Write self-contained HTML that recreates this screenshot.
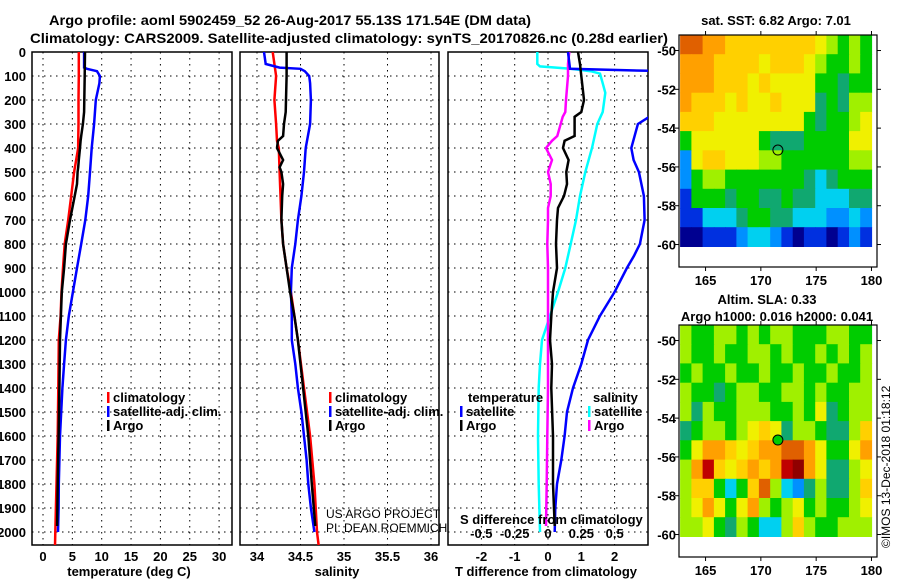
<!DOCTYPE html>
<html><head><meta charset="utf-8"><style>
html,body{margin:0;padding:0;background:#fff}
svg{display:block;font-family:"Liberation Sans",sans-serif}
text{font-weight:bold;font-size:13px;fill:#000}
</style></head><body>
<svg id="s" width="900" height="580" viewBox="0 0 900 580" xmlns="http://www.w3.org/2000/svg">
<defs>
<clipPath id="c1"><rect x="32" y="52" width="200" height="493"/></clipPath>
<clipPath id="c2"><rect x="240" y="52" width="199" height="493"/></clipPath>
<clipPath id="c3"><rect x="448" y="52" width="200" height="493"/></clipPath>
</defs>
<text x="49" y="25" style="font-size:14px" textLength="482" lengthAdjust="spacingAndGlyphs">Argo profile: aoml 5902459_52 26-Aug-2017 55.13S 171.54E (DM data)</text>
<text x="30" y="43" style="font-size:14px" textLength="638" lengthAdjust="spacingAndGlyphs">Climatology: CARS2009. Satellite-adjusted climatology: synTS_20170826.nc (0.28d earlier)</text>
<g id="g"></g>
</svg>
<script>
// ---- depth data ----
const depthClim=[0,100,200,300,370,400,500,600,700,800,900,1000,1100,1200,1400,1600,1800,2000,2060];
const tempClim=[6.1,6.1,6.05,6.05,6.0,6.0,5.3,4.8,4.3,3.7,3.4,3.15,3.0,2.7,2.6,2.5,2.3,2.1,2.05];
const salClim=[34.18,34.22,34.2,34.22,34.23,34.25,34.26,34.27,34.28,34.3,34.34,34.39,34.43,34.47,34.54,34.61,34.66,34.69,34.71];
const depthArgo=[0,100,250,300,350,370,400,450,480,500,550,600,700,800,900,1000,1100,1200,1400,1600,1800,1975];
const tempArgo=[7.15,7.1,7.0,6.8,6.5,6.4,6.3,6.1,6.0,5.9,5.8,5.4,4.6,3.9,3.6,3.2,3.05,2.9,2.8,2.65,2.5,2.4];
const salArgo=[34.34,34.34,34.33,34.31,34.3,34.24,34.23,34.3,34.26,34.28,34.3,34.29,34.28,34.3,34.34,34.38,34.43,34.47,34.53,34.59,34.63,34.67];
const depthSat=[0,50,65,70,80,100,130,200,300,400,500,600,700,800,900,1000,1100,1200,1300,1400,1500,1600,1700,1800,1900,2000];
const tempSat=[7.0,7.0,7.0,7.5,9.2,9.7,9.6,9.0,8.7,8.3,8.0,7.7,7.2,6.5,5.8,5.1,4.4,3.9,3.6,3.3,3.1,2.9,2.8,2.7,2.65,2.55];
const salSat=[34.08,34.1,34.26,34.5,34.55,34.6,34.61,34.62,34.61,34.56,34.54,34.51,34.47,34.44,34.4,34.39,34.4,34.4,34.44,34.47,34.51,34.54,34.57,34.59,34.62,34.66];
// differences
const depthTdA=[0,50,100,200,250,270,350,370,400,450,500,550,600,650,700,800,900,1000,1100,1200,1300,1400,1600,1800,1975];
const tdArgo=[0.9,0.96,1.0,1.08,1.0,0.8,0.8,0.5,0.45,0.62,0.55,0.57,0.48,0.3,0.27,0.24,0.27,0.15,0.1,0.06,0.12,0.1,0.15,0.15,0.2];
const sdArgo=[0.16,0.15,0.15,0.135,0.13,0.11,0.07,0.03,-0.015,0.03,0.0,0.02,0.02,0.0,0.0,-0.005,0.0,0.0,0.0,0.0,0.0,0.0,-0.005,-0.01,-0.015];
const depthTdS=[0,70,80,230,300,400,450,500,600,700,800,850,900,1000,1100,1200,1300,1400,1500,1600,1700,1800,1900,2000];
const tdSat=[0.6,0.66,3.5,3.5,2.7,2.5,2.57,2.73,2.88,2.9,2.76,2.58,2.37,2.0,1.56,1.2,1.0,0.75,0.57,0.5,0.4,0.27,0.22,0.2];
const depthSdS=[0,50,60,70,80,90,130,170,250,300,400,500,600,700,800,900,1000,1100,1200,1300,1400,1600,1800,2000];
const sdSat=[-0.08,-0.08,-0.06,0.17,0.32,0.39,0.41,0.43,0.41,0.37,0.33,0.28,0.24,0.21,0.17,0.13,0.075,0.015,-0.045,-0.06,-0.07,-0.075,-0.07,-0.06];
const depthTicks=[0,100,200,300,400,500,600,700,800,900,1000,1100,1200,1300,1400,1500,1600,1700,1800,1900,2000];
const tempTicks=[0,5,10,15,20,25,30];
const salTicks=[34,34.5,35,35.5,36];
const tdTicks=[-2,-1,0,1,2];
const sdTicks=["-0.5","-0.25","0","0.25","0.5"];
// ---- map data (colour level indices), rows lat -49.2..-60.1, cols lon 162.7..180 ----
const sstGrid=[
[10,10,9,9,8,8,8,8,8,8,8,8,7,6,5,6,5],
[9,9,9,8,8,8,8,7,8,8,8,7,6,5,5,6,5],
[9,9,9,8,8,8,7,8,7,7,7,7,5,5,4,5,5],
[9,8,8,8,7,8,7,7,8,7,7,7,4,5,4,6,6],
[8,8,8,7,7,7,7,7,7,7,7,5,4,5,5,6,7],
[5,7,7,7,7,7,7,5,4,4,4,5,5,5,5,7,7],
[2,7,8,8,7,7,7,6,6,5,5,5,5,5,5,6,6],
[2,5,6,6,5,5,5,5,5,5,5,4,3,4,5,5,5],
[1,5,5,5,4,5,5,4,4,5,4,4,3,3,3,4,4],
[1,1,3,3,3,4,5,5,4,4,3,3,3,2,2,3,2],
[0,0,1,1,1,2,3,3,2,1,0,1,1,0,1,2,1]];
const slaGrid=[
[6,5,5,6,6,5,6,5,6,6,5,5,5,6,6,5,5],
[6,5,5,6,5,5,6,6,5,6,5,5,6,5,6,5,6],
[5,6,5,5,6,5,5,6,5,5,6,5,5,6,5,5,6],
[6,5,5,4,5,6,6,5,5,6,6,5,6,5,5,6,6],
[6,4,6,5,5,6,6,6,5,5,6,5,7,4,5,6,6],
[4,5,6,6,5,6,7,8,7,4,6,6,5,4,4,6,8],
[5,7,9,9,8,7,8,9,9,10,10,9,7,5,5,7,9],
[6,9,11,8,7,8,9,8,9,11,12,9,7,4,4,6,7],
[6,8,8,5,3,5,8,10,6,3,2,4,6,4,4,6,8],
[6,7,9,7,5,7,9,6,5,6,7,5,6,5,5,6,7],
[6,6,7,5,4,6,5,3,3,6,8,6,5,5,6,6,6]];
const latTicks=[-50,-52,-54,-56,-58,-60];
const lonTicks=[165,170,175,180];
const floatLon=171.54, floatLat=-55.13;

const NS='http://www.w3.org/2000/svg';
const G=document.getElementById('g');
function el(tag,attrs,parent){const e=document.createElementNS(NS,tag);for(const k in attrs)e.setAttribute(k,attrs[k]);(parent||G).appendChild(e);return e;}
function txt(x,y,s,anchor,size,weight,parent){const t=el('text',{x:x,y:y,'text-anchor':anchor||'start'},parent);if(size)t.style.fontSize=size+'px';if(weight)t.style.fontWeight=weight;t.textContent=s;return t;}
const yD=d=>52+d*0.24;
const xT=v=>43+5.87*v;
const xS=v=>257+87*(v-34);
const xTd=v=>548+33.3*v;
const xSd=v=>548+133.3*v;
const PT=52,PB=545;

function panel(x0,w,name){
  const r=el('rect',{x:x0,y:PT,width:w,height:PB-PT,fill:'none',stroke:'#000','stroke-width':1.5});
  
  
  depthTicks.forEach(d=>{el('line',{x1:x0,x2:x0+w,y1:yD(d),y2:yD(d),stroke:'#000','stroke-width':1,'stroke-dasharray':'1.5,4.5'});});
}
function vgrid(xs){xs.forEach(x=>el('line',{x1:x,x2:x,y1:PT,y2:PB,stroke:'#000','stroke-width':1,'stroke-dasharray':'1.5,4.5'}));}
function line(ds,vs,fx,color,clip,name){
  let d='';ds.forEach((dd,i)=>{const X=fx(vs[i]),Y=yD(dd);d+=(i?'L':'M')+X.toFixed(1)+' '+Y.toFixed(1)+' ';});
  const p=el('path',{d:d,fill:'none',stroke:color,'stroke-width':2.5,'clip-path':'url(#'+clip+')'});
  
  
}
// panel 1
panel(32,200,'temperature-panel');vgrid(tempTicks.map(xT));
depthTicks.forEach(d=>{const t=txt(26,yD(d)+5,String(d),'end');});
line(depthClim,tempClim,xT,'#ff0000','c1','temp-climatology-line');
line(depthSat,tempSat,xT,'#0000ff','c1','temp-satellite-line');
line(depthArgo,tempArgo,xT,'#000','c1','temp-argo-line');
tempTicks.forEach(v=>{const t=txt(xT(v),561,String(v),'middle');});
let t=txt(129,576,'temperature (deg C)','middle');
// panel 2
panel(240,199,'salinity-panel');vgrid(salTicks.map(xS));
line(depthClim,salClim,xS,'#ff0000','c2','sal-climatology-line');
line(depthSat,salSat,xS,'#0000ff','c2','sal-satellite-line');
line(depthArgo,salArgo,xS,'#000','c2','sal-argo-line');
salTicks.forEach(v=>{const t=txt(xS(v),561,String(v),'middle');});
t=txt(337,576,'salinity','middle');
// panel 3
panel(448,200,'difference-panel');vgrid(tdTicks.map(xTd));
line(depthSdS,sdSat,xSd,'#00ffff','c3','sdiff-satellite-line');
line(depthTdA,sdArgo,xSd,'#ff00ff','c3','sdiff-argo-line');
line(depthTdS,tdSat,xTd,'#0000ff','c3','tdiff-satellite-line');
line(depthTdA,tdArgo,xTd,'#000','c3','tdiff-argo-line');
tdTicks.forEach(v=>{const t=txt(xTd(v),561,String(v),'middle');});
sdTicks.forEach((s,i)=>{const t=txt(xSd(parseFloat(s)),538,s,'middle');});
t=txt(460,524,'S difference from climatology');
t=txt(546,576,'T difference from climatology','middle');
// legends
function leg(x,y,color,label){const r=el('rect',{x:x,y:y-10,width:2.5,height:11,fill:color});const t=txt(x+6,y,label);}
leg(107,402,'#ff0000','climatology');leg(107,416,'#0000ff','satellite-adj. clim.');leg(107,430,'#000','Argo');
leg(329,402,'#ff0000','climatology');leg(329,416,'#0000ff','satellite-adj. clim.');leg(329,430,'#000','Argo');
t=txt(468,402,'temperature');
leg(460,416,'#0000ff','satellite');leg(460,430,'#000','Argo');
t=txt(593,402,'salinity');
leg(588,416,'#00ffff','satellite');leg(588,430,'#ff00ff','Argo');
t=txt(326,518,'US ARGO PROJECT','start',12,'normal');
t=txt(326,532,'PI: DEAN ROEMMICH','start',12,'normal');

// ---- maps ----
const pal=['#000090','#0030e0','#0090ff','#00d0f0','#10a870','#00cc00','#a0f000','#f0f000','#ffd000','#ffa000','#e06000','#c00000','#900000'];
function map(top,grid,name,circleFill){
  const x0=679,x1=877,lon0=162.6,lon1=180.5;
  const lat0=-49.2;const pxLat=19.4;
  const fx=lon=>x0+(lon-lon0)*(x1-x0)/(lon1-lon0);
  const fy=lat=>top+(lat0-lat)*pxLat;
  const rows=grid.length,cols=grid[0].length;
  const dLat=(60.1-49.2)/rows,dLon=(180-162.7)/cols;
  grid.forEach((row,i)=>row.forEach((v,j)=>{
    const xa=fx(162.7+j*dLon),xb=fx(162.7+(j+1)*dLon),ya=fy(-49.2-i*dLat),yb=fy(-49.2-(i+1)*dLat);
    const c=el('rect',{x:xa.toFixed(1),y:ya.toFixed(1),width:(xb-xa+0.6).toFixed(1),height:(yb-ya+0.6).toFixed(1),fill:pal[v]});
    
    
  }));
  const fr=el('rect',{x:x0,y:top,width:x1-x0,height:232,fill:'none',stroke:'#000','stroke-width':1.2});
  
  
  latTicks.forEach(l=>{const y=fy(l);el('line',{x1:x0-4,x2:x0,y1:y,y2:y,stroke:'#000'});el('line',{x1:x1,x2:x1+4,y1:y,y2:y,stroke:'#000'});
    const tt=txt(x0-3,y+5,String(l),'end');});
  lonTicks.forEach(l=>{const x=fx(l);el('line',{x1:x,x2:x,y1:top-4,y2:top,stroke:'#000'});el('line',{x1:x,x2:x,y1:top+232,y2:top+236,stroke:'#000'});
    const tt=txt(x,top+250,String(l),'middle');});
  const c=el('circle',{cx:fx(floatLon),cy:fy(floatLat),r:5,fill:circleFill,stroke:'#000','stroke-width':1});
  
  
}
map(35,sstGrid,'sst-map','none');
map(325,slaGrid,'sla-map','#00cc00');
t=txt(776,25,'sat. SST: 6.82 Argo: 7.01','middle');
t=txt(767,304,'Altim. SLA: 0.33','middle');
t=txt(777,321,'Argo h1000: 0.016 h2000: 0.041','middle');
t=txt(0,0,'©IMOS 13-Dec-2018 01:18:12','start',12,'normal');t.setAttribute('transform','translate(890,548) rotate(-90)');
</script>
</body></html>
